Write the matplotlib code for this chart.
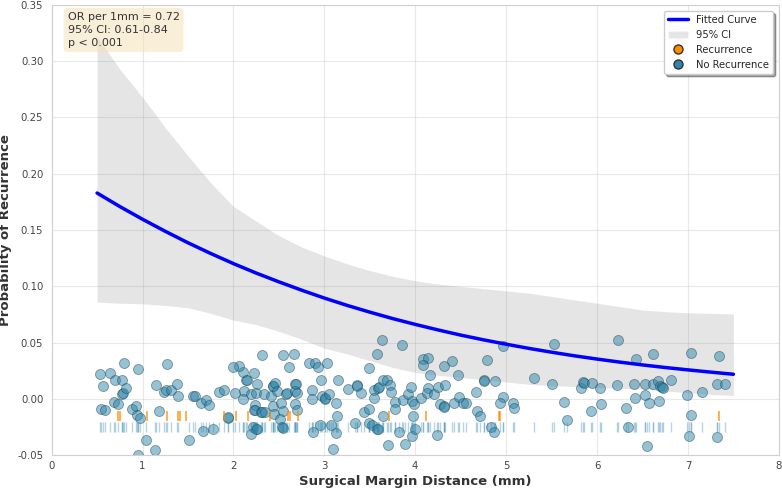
import matplotlib
matplotlib.use('Agg')
import matplotlib.pyplot as plt
import seaborn as sns
from matplotlib.lines import Line2D
from matplotlib.patches import Patch

sns.set_style('whitegrid')
plt.rcParams['font.family'] = ['DejaVu Sans']

# fitted logistic curve
curve_x = [0.5, 0.75, 1.0, 1.25, 1.5, 1.75, 2.0, 2.25, 2.5, 2.75, 3.0, 3.25, 3.5, 3.75, 4.0,
           4.25, 4.5, 4.75, 5.0, 5.25, 5.5, 5.75, 6.0, 6.25, 6.5, 6.75, 7.0, 7.25, 7.5]
curve_y = [0.1829, 0.1709, 0.1596, 0.1489, 0.1387, 0.1292, 0.1202, 0.1118, 0.1040, 0.0966,
           0.0896, 0.0831, 0.0771, 0.0714, 0.0662, 0.0613, 0.0567, 0.0525, 0.0486, 0.0449,
           0.0415, 0.0383, 0.0354, 0.0327, 0.0302, 0.0279, 0.0258, 0.0238, 0.0219]
ci_upper = [0.322, 0.293, 0.268, 0.241, 0.216, 0.192, 0.171, 0.158, 0.145, 0.135, 0.127, 0.120,
            0.114, 0.109, 0.105, 0.102, 0.100, 0.098, 0.096, 0.094, 0.091, 0.088, 0.085, 0.082,
            0.079, 0.0775, 0.0765, 0.076, 0.0755]
ci_lower = [0.086, 0.085, 0.0845, 0.083, 0.081, 0.076, 0.070, 0.066, 0.060, 0.053, 0.045, 0.040,
            0.034, 0.028, 0.0235, 0.021, 0.019, 0.017, 0.015, 0.013, 0.0118, 0.011, 0.010, 0.0095,
            0.0088, 0.007, 0.0055, 0.004, 0.003]

# margins of patients with recurrence (rug only, points sit at y=1)
rec_x = [0.73, 0.75, 1.05, 1.27, 1.39, 1.41, 1.48, 1.90, 2.03, 2.16, 2.40, 2.60, 2.62,
         2.71, 3.71, 4.12, 4.92, 4.93, 7.34]

# patients without recurrence, jittered around 0
no_rec_x = [0.527, 0.564, 0.641, 0.700, 0.773, 0.795, 0.773, 0.780, 0.813, 0.949, 0.681, 0.729,
            0.546, 0.590, 0.886, 0.930, 0.938, 0.967, 1.040, 1.139, 0.949, 1.150, 1.267, 1.231,
            1.260, 1.308, 1.377, 1.388, 1.176, 1.553, 1.582, 1.648, 1.700, 1.736, 1.846, 1.901,
            1.663, 1.780, 1.509,
            2.022, 2.113, 2.103, 2.194, 2.260, 2.231, 2.139, 2.150, 2.103, 2.059, 1.993, 2.250,
            2.341, 2.414, 2.432, 2.440, 2.462, 2.476, 2.579, 2.585, 2.608, 2.681, 2.688, 2.681,
            2.703, 2.542, 2.670, 2.315, 2.835, 2.898, 2.927, 3.025, 2.865, 2.865, 2.963, 2.974,
            3.007, 3.012, 3.048, 3.154, 3.264, 3.355, 3.362, 3.128, 3.136, 1.938, 1.944, 2.238,
            2.231, 2.236, 2.304, 2.310, 2.348, 2.432, 2.451, 2.524, 2.542, 2.681, 2.696, 2.516,
            2.535, 2.540, 2.212, 2.249, 2.254, 2.194, 2.879, 2.956, 3.073, 3.128, 3.092, 3.341,
            3.403, 3.440, 3.487, 3.494, 3.634, 3.579, 3.853, 3.549, 3.593, 3.598, 3.641, 3.689,
            3.725, 3.733, 3.549, 3.641, 3.494, 3.524, 3.579, 3.585, 3.824, 3.696, 3.883, 3.960,
            3.777, 3.777, 3.861, 3.923, 3.952, 3.963, 3.989, 3.971, 4.000, 4.063, 4.088, 4.143,
            4.088, 4.165, 4.136, 4.129, 4.209, 4.253, 4.326, 4.319, 4.399, 4.465, 4.275, 4.311,
            4.316, 4.421, 4.476, 4.520, 4.557, 4.238, 4.667, 4.751, 4.756, 4.788, 4.674, 4.711,
            4.832,
            4.879, 4.967, 4.960, 4.934, 5.077, 5.081, 4.861, 5.308, 5.502, 5.527, 5.637, 5.674,
            5.828, 5.850, 5.856, 5.949, 6.030, 5.931, 6.048, 6.223, 6.234, 6.322, 6.344,
            6.425, 6.619, 6.407, 6.524, 6.619, 6.674, 6.692, 6.718, 6.724, 6.810, 6.418, 6.527,
            6.571, 6.681, 6.546, 6.985, 7.150, 7.029, 7.029, 7.011, 7.341, 7.322, 7.403, 7.315]
no_rec_y = [0.0218, 0.0114, 0.0233, 0.0171, 0.0171, 0.0322, 0.0046, 0.0052, 0.0100, 0.0268,
            -0.0028, -0.0043, -0.0091, -0.0102, -0.0091, -0.0067, -0.0147, -0.0173, -0.0369,
            -0.0458, -0.0502, 0.0126, 0.0309, 0.0058, 0.0076, 0.0076, 0.0135, 0.0022, -0.0108,
            0.0022, 0.0022, -0.0037, -0.0007, -0.0058, 0.0058, 0.0082, -0.0289, -0.0265, -0.0369,
            0.0055, 0.0069, -0.0004, 0.0046, 0.0129, 0.0233, 0.0164, 0.0170, 0.0239, 0.0289,
            0.0283, 0.0055, 0.0046, 0.0025, 0.0111, 0.0115, 0.0144, 0.0067, 0.0046, 0.0050,
            0.0283, 0.0129, 0.0135, 0.0067, 0.0055, 0.0387, 0.0402, 0.0387, 0.0322, 0.0322,
            0.0283, 0.0322, 0.0076, 0.0002, 0.0171, 0.0022, 0.0002, 0.0006, 0.0046, 0.0171,
            0.0084, 0.0120, 0.0112, -0.0034, -0.0153, -0.0167, -0.0162, -0.0058, -0.0102,
            -0.0098, -0.0117, -0.0113, -0.0117, -0.0067, -0.0132, -0.0037, -0.0108, -0.0049,
            -0.0102, -0.0176, -0.0250, -0.0255, -0.0250, -0.0265, -0.0270, -0.0316, -0.0295,
            -0.0236, -0.0236, -0.0304, -0.0449, -0.0215,
            0.0052, -0.0117, -0.0093, 0.0274, 0.0520, 0.0402, 0.0482, 0.0076, 0.0100, 0.0105,
            0.0171, 0.0164, 0.0126, 0.0061, 0.0007, -0.0156, -0.0215, -0.0236, -0.0265, -0.0270,
            -0.0295, -0.0413, -0.0404, -0.0330, -0.0028, -0.0093, -0.0007, 0.0046, 0.0105,
            -0.0022, -0.0049, -0.0156, -0.0271, 0.0007, 0.0357, 0.0366, 0.0304, 0.0215, 0.0100,
            0.0055, 0.0046, 0.0105, 0.0120, 0.0292, 0.0333, 0.0209, -0.0049, -0.0067, -0.0072,
            -0.0037, 0.0016, -0.0034, -0.0034, -0.0324, 0.0061, 0.0164, 0.0160, 0.0342, -0.0111,
            -0.0156, -0.0250,
            0.0159, 0.0470, 0.0016, -0.0034, -0.0034, -0.0081, -0.0295, 0.0185, 0.0135, 0.0484,
            -0.0028, -0.0191, 0.0096, 0.0149, 0.0143, 0.0141, 0.0096, -0.0111, -0.0049, 0.0126,
            0.0526, -0.0081, -0.0250,
            0.0351, 0.0402, 0.0129, 0.0135, 0.0135, 0.0159, 0.0114, 0.0105, 0.0100, 0.0171,
            0.0007, 0.0039, -0.0034, -0.0022, -0.0422, 0.0036, 0.0061, 0.0405, -0.0147, -0.0333,
            0.0378, 0.0135, 0.0135, -0.0339]

blue = '#2E86AB'
orange = '#FF8C00'

fig, ax = plt.subplots(figsize=(7.82, 4.9), dpi=100)

ax.fill_between(curve_x, ci_lower, ci_upper, color='gray', alpha=0.2, linewidth=0)
ax.plot(curve_x, curve_y, color='blue', linewidth=2.5)

ax.scatter(no_rec_x, no_rec_y, s=52, color=blue, alpha=0.5, edgecolors='#1a3d4d', linewidths=0.6)

# rug marks
ax.scatter(no_rec_x, [-0.025] * len(no_rec_x), marker='|', s=52, color=blue, alpha=0.35,
           linewidths=1)
ax.scatter(rec_x, [-0.015] * len(rec_x), marker='|', s=52, color=orange, alpha=0.8,
           linewidths=1.2)

ax.set_xlim(0, 8)
ax.set_ylim(-0.05, 0.35)
ax.set_xticks(range(0, 9))
ax.set_yticks([-0.05, 0.0, 0.05, 0.10, 0.15, 0.20, 0.25, 0.30, 0.35])
ax.set_yticklabels(['-0.05', '0.00', '0.05', '0.10', '0.15', '0.20', '0.25', '0.30', '0.35'])
ax.tick_params(axis='both', length=0, labelsize=7.3, colors='#444444')
ax.tick_params(axis='x', pad=4)
ax.tick_params(axis='y', pad=6)
ax.grid(True, color='#cccccc', alpha=0.45, linewidth=0.8)
for s in ax.spines.values():
    s.set_color('#d0d0d0')

ax.set_xlabel('Surgical Margin Distance (mm)', fontsize=9.5, fontweight='bold', color='#333333',
              labelpad=3)
ax.set_ylabel('Probability of Recurrence', fontsize=9.5, fontweight='bold', color='#333333',
              labelpad=4)

ax.text(0.022, 0.985, 'OR per 1mm = 0.72\n95% CI: 0.61-0.84\np < 0.001', transform=ax.transAxes,
        fontsize=8, va='top', color='#333333', linespacing=1.4,
        bbox=dict(boxstyle='round,pad=0.35', facecolor='wheat', edgecolor='none', alpha=0.5))

handles = [Line2D([0], [0], color='blue', lw=2.5, label='Fitted Curve'),
           Patch(facecolor='gray', alpha=0.2, label='95% CI'),
           Line2D([0], [0], marker='o', color='none', markerfacecolor=orange,
                  markeredgecolor='#333333', markersize=6.5, label='Recurrence'),
           Line2D([0], [0], marker='o', color='none', markerfacecolor=blue,
                  markeredgecolor='#333333', markersize=6.5, label='No Recurrence')]
ax.legend(handles=handles, loc='upper right', fontsize=7.2, frameon=True, shadow=True,
          facecolor='white', edgecolor='#cccccc', borderaxespad=0.6)

plt.subplots_adjust(left=0.066, right=0.996, top=0.99, bottom=0.071)
plt.savefig('out.png', dpi=100)
